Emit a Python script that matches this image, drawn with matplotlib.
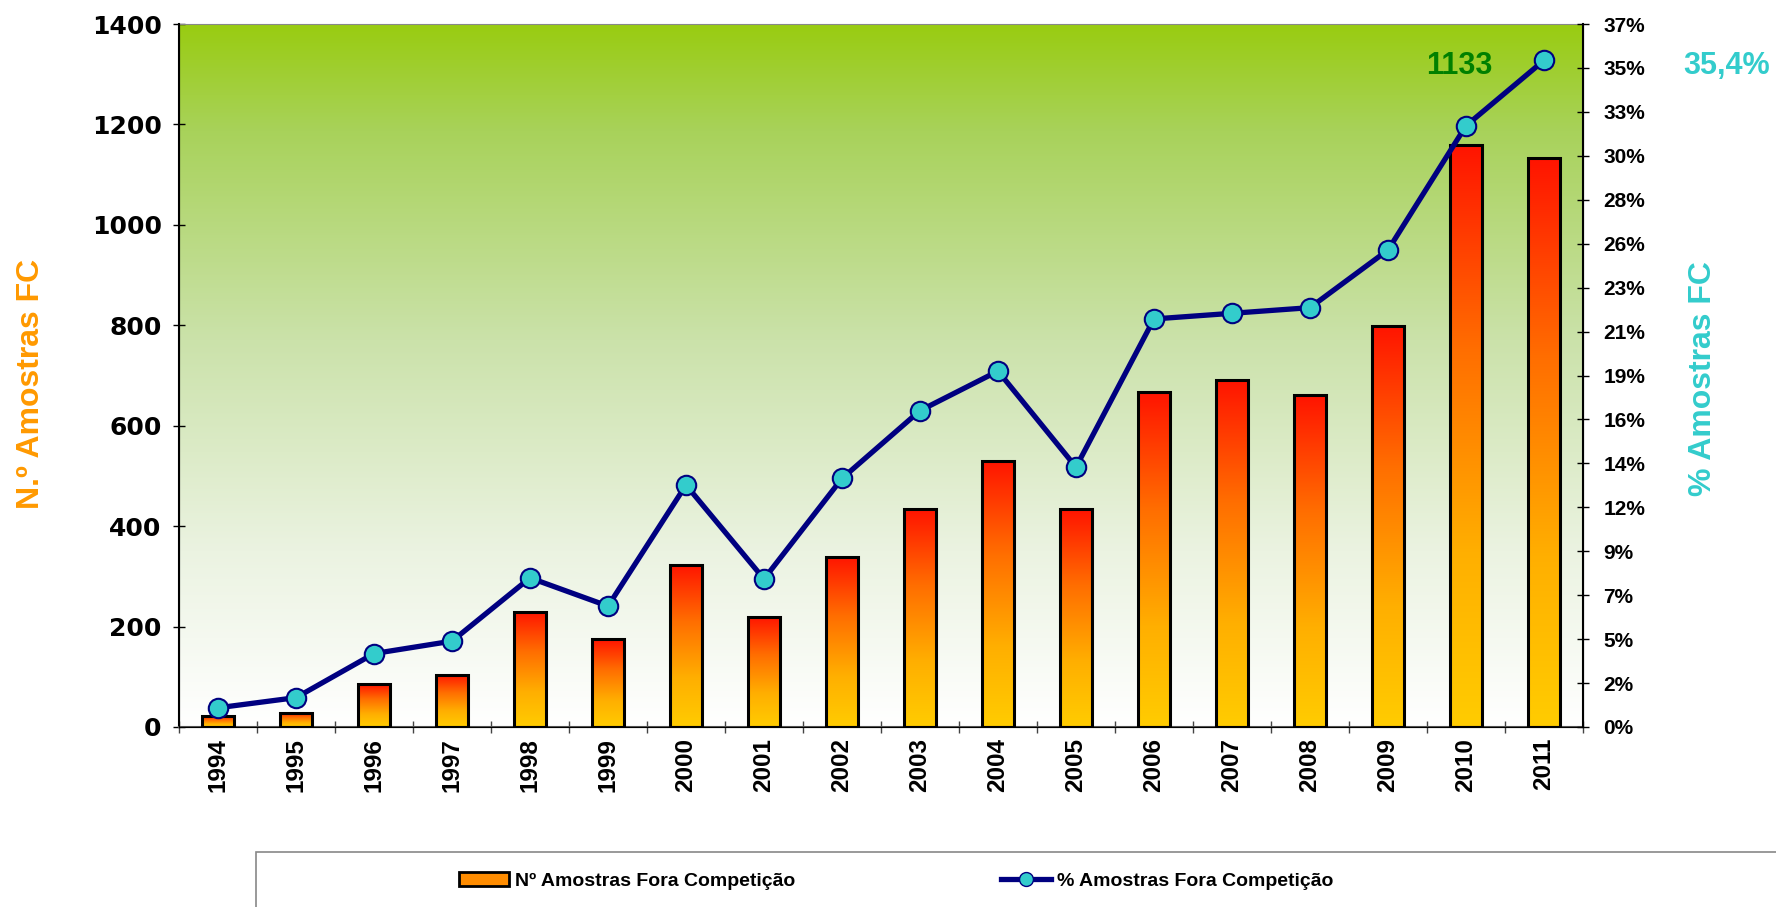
import numpy as np
import matplotlib.pyplot as plt
from matplotlib.colors import LinearSegmentedColormap
from matplotlib.patches import Rectangle
from matplotlib.lines import Line2D

years = ['1994', '1995', '1996', '1997', '1998', '1999', '2000', '2001', '2002',
         '2003', '2004', '2005', '2006', '2007', '2008', '2009', '2010', '2011']
n_samples = [21, 28, 85, 104, 230, 175, 323, 220, 339,
             434, 530, 434, 667, 691, 661, 799, 1159, 1133]
pct_samples = [0.0102, 0.0156, 0.039, 0.0456, 0.0792, 0.0642, 0.1285, 0.0786, 0.132,
               0.168, 0.189, 0.138, 0.2167, 0.2197, 0.2227, 0.2533, 0.3193, 0.354]

left_ticks = [0, 200, 400, 600, 800, 1000, 1200, 1400]
right_max = 0.37333

bar_label = 'Nº Amostras Fora Competição'
line_label = '% Amostras Fora Competição'

# colour ramps
bg_cmap = LinearSegmentedColormap.from_list('bg', [
    (0.0, (1, 1, 1)), (0.25, (235/255, 243/255, 225/255)),
    (0.55, (203/255, 226/255, 170/255)), (0.85, (168/255, 210/255, 90/255)),
    (1.0, (153/255, 204/255, 17/255))])
bar_cmap = LinearSegmentedColormap.from_list('bar', [
    (0.0, (1, 204/255, 0)), (0.3, (1, 175/255, 0)),
    (0.65, (1, 110/255, 0)), (1.0, (1, 20/255, 0))])

fig = plt.figure(figsize=(17.76, 9.07), dpi=100)
ax = fig.add_axes([179/1776, 1-727/907, 1404/1776, 703/907])

x = np.arange(len(years)) + 0.5
grad = np.linspace(0, 1, 256).reshape(-1, 1)

# background
ax.imshow(grad, cmap=bg_cmap, origin='lower', extent=[0, 1, 0, 1],
          transform=ax.transAxes, aspect='auto', zorder=0)

bars = ax.bar(x, n_samples, width=0.42, facecolor='none', edgecolor='black',
              linewidth=2.2, zorder=3)
for b in bars:
    im = ax.imshow(grad, cmap=bar_cmap, origin='lower', aspect='auto',
                   extent=[b.get_x(), b.get_x() + b.get_width(), 0, b.get_height()],
                   zorder=2)
    im.set_clip_path(b)

ax.set_xlim(0, len(years))
ax.set_ylim(0, 1400)
ax.set_yticks(left_ticks)
ax.set_yticklabels([str(t) for t in left_ticks], fontsize=18, fontweight='bold',
                   family='DejaVu Sans')
ax.tick_params(axis='y', direction='inout', length=9, width=1, pad=8)

ax.set_xticks(np.arange(len(years) + 1))
ax.set_xticklabels([])
ax.set_xticks(x, minor=True)
ax.set_xticklabels(years, minor=True, rotation=90, fontsize=17.5, fontweight='bold',
                   family='Liberation Sans')
ax.tick_params(axis='x', which='major', direction='inout', length=9, width=1, color='#444444')
ax.tick_params(axis='x', which='minor', length=0, pad=8)

ax.spines['top'].set_color('#888888')
ax.spines['left'].set_linewidth(1.5)
ax.spines['bottom'].set_color('#555555')
ax.spines['bottom'].set_linewidth(1.5)

ax.set_ylabel('N.º Amostras FC', color='#FF9900', fontsize=23, fontweight='bold',
              family='Liberation Sans')
ax.yaxis.set_label_coords(-0.095, 0.488)

ax2 = ax.twinx()
ax2.plot(x, pct_samples, color='#000080', linewidth=3.8, marker='o', markersize=14,
         markerfacecolor='#33CCCC', markeredgecolor='#000080', markeredgewidth=1.5,
         zorder=5)
ax2.set_ylim(0, right_max)
rt = np.linspace(0, right_max, 17)
ax2.set_yticks(rt)
ax2.set_yticklabels([f'{round(v*100)}%' for v in rt], fontsize=15, fontweight='bold',
                    family='Liberation Sans')
ax2.tick_params(axis='y', direction='inout', length=9, width=1, pad=10)
ax2.spines['right'].set_linewidth(1.5)
ax2.spines['top'].set_visible(False)
ax2.set_ylabel('% Amostras FC', color='#33CCCC', fontsize=23, fontweight='bold',
               family='Liberation Sans')
ax2.yaxis.set_label_coords(1.075, 0.495)

# value annotations
fig.text(1459/1776, 1-66/907, str(n_samples[-1]), color='#008000', fontsize=22,
         fontweight='bold', family='Liberation Sans', ha='center', va='center')
fig.text(1727/1776, 1-66/907, f'{pct_samples[-1]*100:.1f}%'.replace('.', ','),
         color='#33CCCC', fontsize=22, fontweight='bold', family='Liberation Sans',
         ha='center', va='center')

# legend box
fig.patches.append(Rectangle((256/1776, -0.01), 1 - 256/1776 + 0.01, 0.01 + 1-852/907,
                             transform=fig.transFigure, facecolor='white',
                             edgecolor='#888888', linewidth=1.2))
handles = [Rectangle((0, 0), 1, 1, facecolor='#FF8C00', edgecolor='black', linewidth=2),
           Line2D([], [], color='#000080', linewidth=3.8, marker='o', markersize=10,
                  markerfacecolor='#33CCCC', markeredgecolor='#000080')]
fig.legend(handles, [bar_label, line_label], loc='center left',
           bbox_to_anchor=(449/1776, 1-881/907), ncol=2, frameon=False,
           prop={'family': 'Liberation Sans', 'weight': 'bold', 'size': 14},
           handlelength=2.6, handletextpad=0.3, columnspacing=10.55, borderpad=0)

fig.savefig('out.png', dpi=100)
